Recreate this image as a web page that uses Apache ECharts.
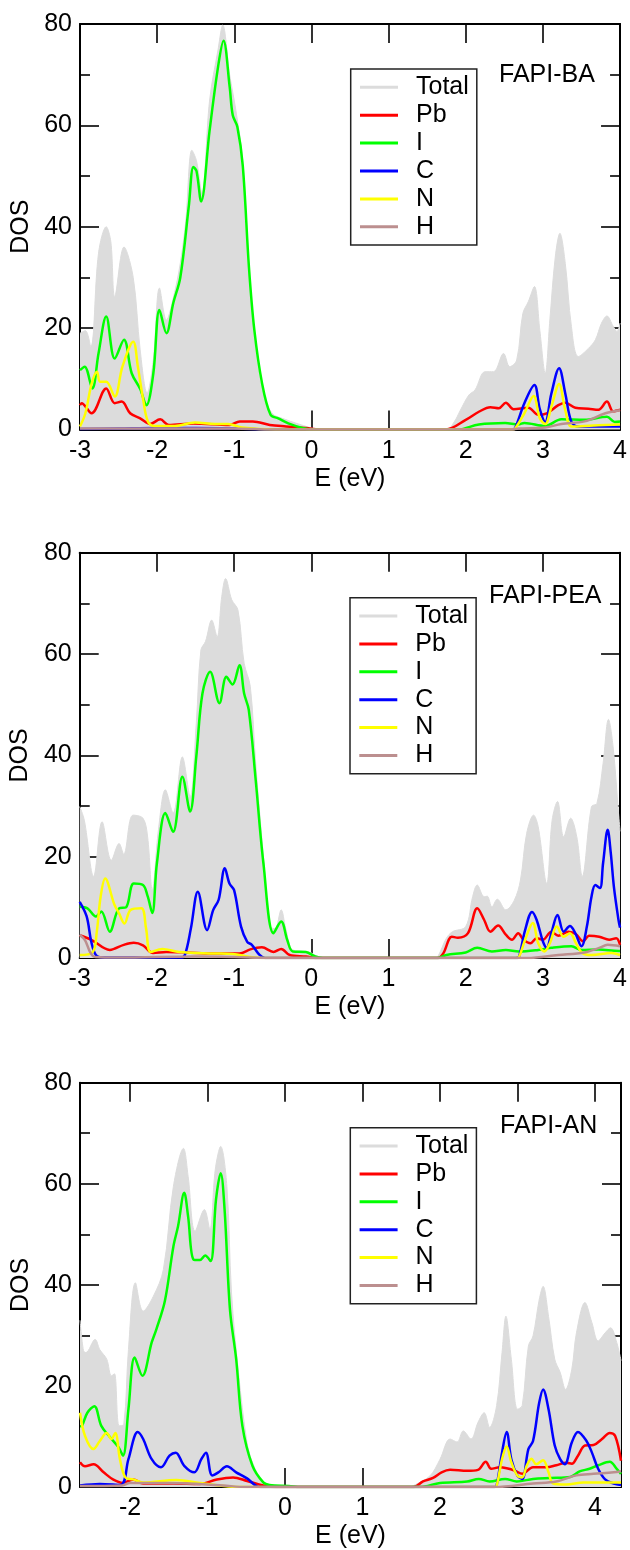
<!DOCTYPE html>
<html>
<head>
<meta charset="utf-8">
<script src="https://cdn.jsdelivr.net/npm/echarts@6/dist/echarts.min.js"></script>
<style>
html,body{margin:0;padding:0;background:#fff;}
#chart{width:630px;height:1550px;}
</style>
</head>
<body>
<div id="chart"></div>
<script>
// ---------------- DATA ----------------
const seriesNames = ['Total', 'Pb', 'I', 'C', 'N', 'H'];
const panelLabels = ['FAPI-BA', 'FAPI-PEA', 'FAPI-AN'];
const xTickValues = [-3, -2, -1, 0, 1, 2, 3, 4];
const xTickValuesAN = [-2, -1, 0, 1, 2, 3, 4];
const xRanges = [[-3, 4], [-3, 4], [-2.645, 4.335]];
const yTickValues = [0, 20, 40, 60, 80];

// FAPI-BA
const baTotal = [[-3,19],[-2.93,19.5],[-2.86,16.3],[-2.76,34.8],[-2.66,40],[-2.6,37],[-2.55,26.2],[-2.43,36],[-2.31,30],[-2.22,15.7],[-2.13,7.2],[-2.05,13.7],[-1.97,27.9],[-1.88,21.6],[-1.79,26],[-1.7,32.8],[-1.63,41],[-1.55,55.1],[-1.49,53],[-1.42,46.6],[-1.32,65],[-1.21,75],[-1.15,79.8],[-1.06,70],[-0.98,63],[-0.89,53],[-0.81,32],[-0.72,15.7],[-0.64,7.8],[-0.51,3.2],[-0.34,2.0],[-0.21,1.3],[0,0.3],[0.1,0],[1.75,0],[1.85,1.5],[1.93,3.8],[2.04,6.8],[2.12,7.8],[2.25,11.4],[2.36,11.4],[2.49,15],[2.57,12.4],[2.66,13.7],[2.74,22.9],[2.81,25.2],[2.89,28.2],[2.96,19.6],[3.03,11.1],[3.09,21.6],[3.16,34],[3.22,38.7],[3.29,32.8],[3.37,20.3],[3.46,14.4],[3.59,16],[3.68,17.7],[3.76,21],[3.83,22.4],[3.91,20.4],[3.96,19.3],[4,21]];
const baPb = [[-3,4.8],[-2.98,5.2],[-2.85,3.2],[-2.66,8.1],[-2.55,5.2],[-2.46,5.5],[-2.35,3.2],[-2.22,2.2],[-2.09,1.1],[-1.96,2.0],[-1.85,0.9],[-1.53,1.2],[-1.06,0.9],[-0.93,1.6],[-0.76,1.6],[-0.54,0.9],[-0.33,0.6],[-0.07,0.3],[0.1,0],[1.74,0],[2.0,1.9],[2.17,3.5],[2.32,4.4],[2.43,4.2],[2.52,5.3],[2.62,4.0],[2.81,4.3],[2.94,2.9],[3.05,3.2],[3.2,4.8],[3.29,5.3],[3.42,4.3],[3.59,4.1],[3.72,3.9],[3.83,5.5],[3.91,3.6],[4,3.9]];
const baI = [[-3,11.7],[-2.94,12.4],[-2.84,8.1],[-2.76,15],[-2.66,22.3],[-2.55,14],[-2.43,17.7],[-2.33,11.1],[-2.22,8],[-2.14,4.8],[-2.05,11],[-1.97,23.6],[-1.88,19],[-1.79,25],[-1.7,30],[-1.59,44],[-1.53,51.8],[-1.49,51],[-1.43,45],[-1.32,59],[-1.21,71.6],[-1.14,76.7],[-1.06,67.6],[-1.02,62],[-0.96,59.7],[-0.89,52],[-0.81,32],[-0.74,19.6],[-0.64,9.1],[-0.53,2.9],[-0.43,2.2],[-0.3,1.2],[-0.12,0.3],[0,0],[1.9,0],[2.17,1.0],[2.51,1.3],[2.68,1.0],[2.76,1.3],[3.03,0.7],[3.24,2.0],[3.54,1.9],[3.83,2.5],[3.93,1.5],[4,1.6]];
const baC = [[-3,0.1],[-2.5,0.2],[-2,0.3],[-1.5,0.3],[-1,0.2],[-0.5,0],[2.6,0],[2.64,0.3],[2.76,5.2],[2.89,8.8],[2.96,4.0],[3.03,1.5],[3.11,7.1],[3.21,12.1],[3.29,7.1],[3.37,1.5],[3.46,0.6],[4,0.6]];
const baN = [[-3,0.6],[-2.93,3.2],[-2.85,9],[-2.78,11.4],[-2.74,9.4],[-2.66,9.4],[-2.55,6.5],[-2.45,12.4],[-2.31,17.3],[-2.25,12.4],[-2.18,5.8],[-2.12,1.6],[-2.03,0.7],[-1.77,0.7],[-1.51,1.4],[-1.25,1.1],[-1.08,1.1],[-0.9,0.4],[-0.47,0],[2.6,0],[2.64,0.2],[2.76,3.2],[2.88,6.6],[2.96,2.2],[3.03,1.1],[3.11,4.5],[3.21,9],[3.29,3.8],[3.37,0.6],[3.54,0.7],[4,1.0]];
const baH = [[-3,0.2],[-1,0.2],[-0.5,0],[2.6,0],[2.68,0.2],[3.03,0.4],[3.24,1.1],[3.54,1.6],[3.81,3.2],[4,3.8]];

// FAPI-PEA
const peaTotal = [[-3,29.9],[-2.94,27.2],[-2.82,16.1],[-2.71,26.9],[-2.59,19.3],[-2.49,22.6],[-2.43,20.5],[-2.31,28.2],[-2.18,27.6],[-2.12,23.9],[-2.06,13.4],[-1.98,25.3],[-1.89,33.2],[-1.79,28.6],[-1.67,39.7],[-1.57,31.8],[-1.49,46.3],[-1.43,60.8],[-1.37,62.5],[-1.29,66.7],[-1.22,63.4],[-1.16,71.3],[-1.11,74.9],[-1.03,70.7],[-0.95,68.7],[-0.87,58.2],[-0.79,53.6],[-0.72,38.4],[-0.62,20],[-0.53,6.2],[-0.47,5.8],[-0.39,9.5],[-0.33,5.8],[-0.24,1.6],[-0.07,1.3],[0,1.0],[0.1,0.2],[0.2,0],[1.6,0],[1.64,0.3],[1.75,3.9],[1.83,5.2],[2.0,6.2],[2.09,12.1],[2.15,14.4],[2.24,12.1],[2.28,12.2],[2.34,10.1],[2.41,11.6],[2.52,9.5],[2.63,11.4],[2.71,15.4],[2.79,24.6],[2.88,28.2],[2.94,25.9],[3.05,14.7],[3.12,27.2],[3.19,30.9],[3.27,23.9],[3.36,27.6],[3.44,23.9],[3.51,16.1],[3.63,29.9],[3.7,30.5],[3.78,38.4],[3.85,47.1],[3.91,41.7],[3.98,28.6],[4,25]];
const peaPb = [[-3,4.5],[-2.85,3.6],[-2.61,1.6],[-2.43,2.6],[-2.3,3.0],[-2.18,2.5],[-2.05,1.0],[-1.88,1.2],[-1.62,1.1],[-1.27,0.9],[-0.93,0.9],[-0.79,1.7],[-0.64,2.1],[-0.49,1.2],[-0.39,1.8],[-0.28,0.6],[-0.07,0.3],[0.1,0],[1.64,0],[1.71,0.9],[1.82,4.2],[1.9,4.0],[2.03,4.9],[2.15,9.8],[2.24,7.5],[2.32,5.2],[2.42,6.4],[2.52,4.6],[2.6,3.6],[2.68,4.9],[2.75,3.6],[2.84,2.9],[2.92,3.9],[3.0,3.6],[3.11,5.2],[3.2,4.4],[3.33,5.2],[3.43,4.7],[3.52,3.3],[3.6,4.4],[3.73,4.2],[3.86,3.6],[3.95,3.9],[4,2.6]];
const peaI = [[-3,10.1],[-2.9,9.8],[-2.79,8.2],[-2.72,9.2],[-2.61,5.2],[-2.49,9.8],[-2.4,10],[-2.3,14.7],[-2.18,14.4],[-2.12,12.2],[-2.06,8.9],[-2.0,18.7],[-1.89,28.6],[-1.79,24.9],[-1.67,35.8],[-1.57,28.9],[-1.49,39.7],[-1.41,52.2],[-1.31,56.5],[-1.19,50.3],[-1.1,55.5],[-1.02,54],[-0.93,57.8],[-0.87,52.2],[-0.81,49],[-0.72,35.1],[-0.62,18.7],[-0.49,4.9],[-0.39,7.2],[-0.31,3.5],[-0.24,1.3],[-0.07,1.2],[0.05,0.3],[0.15,0],[1.64,0],[1.75,0.6],[2.0,1.1],[2.15,2.0],[2.34,1.3],[2.52,1.6],[2.69,1.3],[2.94,1.6],[3.11,2.0],[3.37,2.3],[3.5,1.6],[3.72,1.7],[3.98,1.4],[4,1.4]];
const peaC = [[-3,11.1],[-2.91,8.2],[-2.85,3.2],[-2.79,0.6],[-2.7,0.1],[-1.7,0.1],[-1.64,0.5],[-1.56,5.8],[-1.47,13.1],[-1.35,5.5],[-1.27,9.5],[-1.2,11.5],[-1.12,17.7],[-1.06,14.7],[-1.0,13.4],[-0.91,6.2],[-0.83,3.2],[-0.77,2.6],[-0.67,0.6],[-0.6,0],[2.65,0],[2.69,0.2],[2.77,5.5],[2.86,9.1],[2.92,7.5],[3.0,3.3],[3.05,2.0],[3.11,4.9],[3.19,8.5],[3.27,5.2],[3.35,6.3],[3.42,4.9],[3.5,2.3],[3.57,6.2],[3.63,12.1],[3.68,14.4],[3.74,13.8],[3.78,18.7],[3.84,25.3],[3.88,20.7],[3.92,14.1],[3.98,7.5],[4,6]];
const peaN = [[-3,0.6],[-2.83,1.2],[-2.78,5],[-2.73,12],[-2.67,15.7],[-2.55,10.5],[-2.49,8.8],[-2.42,6.8],[-2.34,9.5],[-2.2,9.8],[-2.14,5.8],[-2.08,1.2],[-1.93,1.8],[-1.71,1.2],[-1.27,0.9],[-1.02,0.8],[-0.79,0.2],[-0.6,0],[2.65,0],[2.69,0.2],[2.77,3.6],[2.87,6.9],[2.94,2.9],[3.02,1.3],[3.09,2.9],[3.18,6.2],[3.27,4.2],[3.35,4.9],[3.43,2.9],[3.51,1.0],[3.63,0.6],[3.89,1.0],[4,0.6]];
const peaH = [[-3,4.6],[-2.93,3.5],[-2.86,1.0],[-2.8,0.2],[-2.5,0.1],[-1.5,0.3],[-1,0.2],[-0.5,0],[2.8,0],[3.2,0.6],[3.54,1.1],[3.73,2.0],[3.84,2.6],[4,2.3]];

// FAPI-AN
const anTotal = [[-2.645,33],[-2.6,27],[-2.57,26.6],[-2.45,29.2],[-2.39,27.2],[-2.3,25.3],[-2.24,22],[-2.2,22.4],[-2.14,12.1],[-2.08,12.4],[-2.02,27.2],[-1.93,40.4],[-1.83,34.8],[-1.7,37.7],[-1.57,43],[-1.44,59.5],[-1.31,67],[-1.25,61.5],[-1.16,50.6],[-1.04,54.9],[-0.97,51],[-0.9,62.8],[-0.83,67.4],[-0.75,59.5],[-0.69,38.4],[-0.6,22.6],[-0.49,8.8],[-0.41,4.5],[-0.28,0.9],[-0.1,0.3],[0,0],[1.6,0],[1.66,0.3],[1.87,2.2],[2.0,5.5],[2.13,9.5],[2.22,8.9],[2.3,11.1],[2.4,9.5],[2.49,12.8],[2.57,14.7],[2.64,11.8],[2.73,16.1],[2.8,26.6],[2.85,33.8],[2.92,25.3],[3.0,15.4],[3.06,16.1],[3.14,27.9],[3.2,29.9],[3.28,37.1],[3.33,39.7],[3.4,33.8],[3.48,25.3],[3.55,22.7],[3.62,19.3],[3.7,23.3],[3.76,30.5],[3.87,36.5],[3.96,32.5],[4.04,28.9],[4.13,30.5],[4.2,31.5],[4.28,28.6],[4.335,25]];
const anPb = [[-2.645,4.9],[-2.58,4.1],[-2.47,4.5],[-2.34,2.9],[-2.22,1.5],[-2.09,0.8],[-1.96,1.5],[-1.83,0.7],[-1.44,0.7],[-1.1,0.6],[-0.88,1.5],[-0.67,1.9],[-0.49,1.2],[-0.28,0.3],[-0.1,0],[1.66,0],[1.78,1.1],[1.91,1.8],[2.02,2.9],[2.13,3.4],[2.35,3.2],[2.49,3.4],[2.59,5.0],[2.66,3.6],[2.77,3.9],[2.86,3.7],[2.97,3.2],[3.06,2.6],[3.2,3.9],[3.37,3.9],[3.5,4.3],[3.63,4.8],[3.7,4.6],[3.78,6.2],[3.87,8.2],[3.98,8.3],[4.09,9.5],[4.19,10.7],[4.26,10.1],[4.335,5.2]];
const anI = [[-2.645,12],[-2.62,12.1],[-2.55,14.7],[-2.46,16],[-2.37,12.1],[-2.26,9.9],[-2.15,7.9],[-2.09,6.2],[-2.02,15.4],[-1.94,25.6],[-1.84,22],[-1.72,28.6],[-1.66,31.2],[-1.55,36.8],[-1.44,47.6],[-1.38,51.6],[-1.3,58.2],[-1.25,53.5],[-1.18,45],[-1.1,44.9],[-1.03,45.8],[-0.96,44.7],[-0.89,56.9],[-0.83,62.1],[-0.78,55],[-0.71,35.1],[-0.63,25.3],[-0.55,12.1],[-0.42,4.2],[-0.28,0.9],[-0.2,0.4],[0.05,0.2],[0.2,0],[1.74,0],[2.0,0.8],[2.35,1.1],[2.5,1.6],[2.64,1.1],[2.84,1.6],[2.99,1.1],[3.2,1.6],[3.42,1.8],[3.68,2.0],[3.8,3.1],[3.93,3.6],[4.04,4.3],[4.19,5.0],[4.28,3.6],[4.335,2.6]];
const anC = [[-2.645,0.3],[-2.39,0.6],[-2.12,0.4],[-2.02,5.5],[-1.9,10.9],[-1.83,9.5],[-1.72,5.5],[-1.6,3.9],[-1.49,6.2],[-1.41,6.8],[-1.3,4.2],[-1.17,2.9],[-1.08,5.5],[-1.02,6.8],[-0.94,2.3],[-0.86,2.9],[-0.75,4.1],[-0.63,2.9],[-0.49,1.7],[-0.37,0.2],[-0.3,0],[2.7,0],[2.73,0.3],[2.8,6.8],[2.86,10.9],[2.92,5.5],[3.0,2.2],[3.06,1.6],[3.14,7.5],[3.2,9.1],[3.28,16.7],[3.33,19.3],[3.4,15.4],[3.48,8.2],[3.55,5.5],[3.61,4.5],[3.7,8.8],[3.78,10.9],[3.89,9.1],[3.96,6.8],[4.04,3.6],[4.13,1.5],[4.24,0.7],[4.335,0.4]];
const anN = [[-2.645,14.7],[-2.58,10.1],[-2.47,7.5],[-2.39,9.1],[-2.3,10.7],[-2.24,9.5],[-2.19,10.7],[-2.13,5.5],[-2.06,1.9],[-1.96,1.5],[-1.83,0.9],[-1.4,1.4],[-1.1,0.8],[-0.84,0.3],[-0.6,0],[2.7,0],[2.73,0.2],[2.8,5.5],[2.86,8.0],[2.92,4.9],[3.0,2.2],[3.06,1.9],[3.12,4.3],[3.18,5.6],[3.24,4.5],[3.33,5.3],[3.4,2.9],[3.46,0.7],[3.63,0.5],[3.85,0.9],[4.335,0.9]];
const anH = [[-2.645,0.2],[-2.1,0.3],[-2.0,0.8],[-1.5,0.8],[-1.1,0.6],[-0.8,0.3],[-0.5,0],[2.7,0],[3.2,0.7],[3.5,1.1],[3.76,2.3],[3.98,2.6],[4.24,2.9],[4.335,3.1]];

const panelData = [
  [baTotal, baPb, baI, baC, baN, baH],
  [peaTotal, peaPb, peaI, peaC, peaN, peaH],
  [anTotal, anPb, anI, anC, anN, anH]
];

// ---------------- STYLE ----------------
const FONT = '"Liberation Sans", Arial, Helvetica, sans-serif';
const FS = 25;
const colors = ['#dcdcdc', '#ff0000', '#00ff00', '#0000ff', '#ffff00', '#bc8f8f'];
const grids = [
  {left: 80, top: 24, width: 541.7, height: 405.5},
  {left: 79.3, top: 552.7, width: 541.4, height: 405.3},
  {left: 80, top: 1082.7, width: 541, height: 405.3}
];
const legendPos = [{left: 350.7, top: 69}, {left: 350, top: 597.7}, {left: 350.3, top: 1127.7}];
const labelPos = [{left: 499, top: 63}, {left: 489, top: 584}, {left: 500, top: 1114}];

const axisLineStyle = {color: '#000', width: 2};
const tickLineStyle = {color: '#000', width: 1.6};

const xAxes = [], yAxes = [], series = [], legends = [], titles = [];
grids.forEach((g, i) => {
  const [xmin, xmax] = xRanges[i];
  const ticks = i === 2 ? xTickValuesAN : xTickValues;
  const common = {
    type: 'value', gridIndex: i, min: xmin, max: xmax,
    splitLine: {show: false},
    axisLine: {show: true, onZero: false, lineStyle: axisLineStyle},
    axisTick: {show: true, inside: true, length: 19, lineStyle: tickLineStyle, customValues: ticks},
  };
  xAxes.push(Object.assign({}, common, {
    position: 'bottom',
    axisLabel: {show: true, customValues: ticks, margin: 9, color: '#000', fontSize: FS, fontFamily: FONT,
      formatter: v => String(v)},
    name: 'E (eV)', nameLocation: 'middle', nameGap: 37,
    nameTextStyle: {color: '#000', fontSize: FS, fontFamily: FONT}
  }));
  xAxes.push(Object.assign({}, common, {
    position: 'top',
    axisLabel: {show: false}
  }));
  const ycommon = {
    type: 'value', gridIndex: i, min: 0, max: 80, interval: 20,
    splitLine: {show: false},
    axisLine: {show: true, onZero: false, lineStyle: axisLineStyle},
    axisTick: {show: true, inside: true, length: 19, lineStyle: tickLineStyle},
    minorTick: {show: true, splitNumber: 2, length: 10, lineStyle: tickLineStyle},
    minorSplitLine: {show: false}
  };
  yAxes.push(Object.assign({}, ycommon, {
    position: 'left',
    axisLabel: {show: true, margin: 8, color: '#000', fontSize: FS, fontFamily: FONT},
    name: 'DOS', nameLocation: 'middle', nameGap: 38, nameRotate: 90,
    nameTextStyle: {color: '#000', fontSize: FS, fontFamily: FONT}
  }));
  yAxes.push(Object.assign({}, ycommon, {
    position: 'right',
    axisLabel: {show: false}
  }));

  panelData[i].forEach((d, k) => {
    const s = {
      name: seriesNames[k], type: 'line', xAxisIndex: i * 2, yAxisIndex: i * 2,
      data: d, smooth: 0.35, symbol: 'none', clip: true,
      itemStyle: {color: colors[k]},
      lineStyle: {color: colors[k], width: k === 0 ? 1 : 2.5},
      emphasis: {disabled: true}, z: 2 + k
    };
    if (k === 0) s.areaStyle = {color: colors[0], opacity: 1};
    series.push(s);
  });

  legends.push({
    show: true, orient: 'vertical', left: legendPos[i].left, top: legendPos[i].top,
    data: seriesNames.slice(), icon: 'rect', itemWidth: 38, itemHeight: 3, itemGap: 2.9,
    padding: [5.8, 8, 5.8, 9.3], borderColor: '#222', borderWidth: 1.5,
    backgroundColor: '#fff', selectedMode: false,
    textStyle: {color: '#000', fontSize: FS, fontFamily: FONT, lineHeight: 25, padding: [0, 0, 0, 13]}
  });

  titles.push({
    text: panelLabels[i], left: labelPos[i].left, top: labelPos[i].top, padding: 0,
    textStyle: {color: '#000', fontSize: FS, fontWeight: 'normal', fontFamily: FONT}
  });
});

const chart = echarts.init(document.getElementById('chart'), null, {renderer: 'canvas'});
chart.setOption({
  animation: false,
  backgroundColor: '#fff',
  title: titles,
  legend: legends,
  grid: grids,
  xAxis: xAxes,
  yAxis: yAxes,
  series: series
});
</script>
</body>
</html>
